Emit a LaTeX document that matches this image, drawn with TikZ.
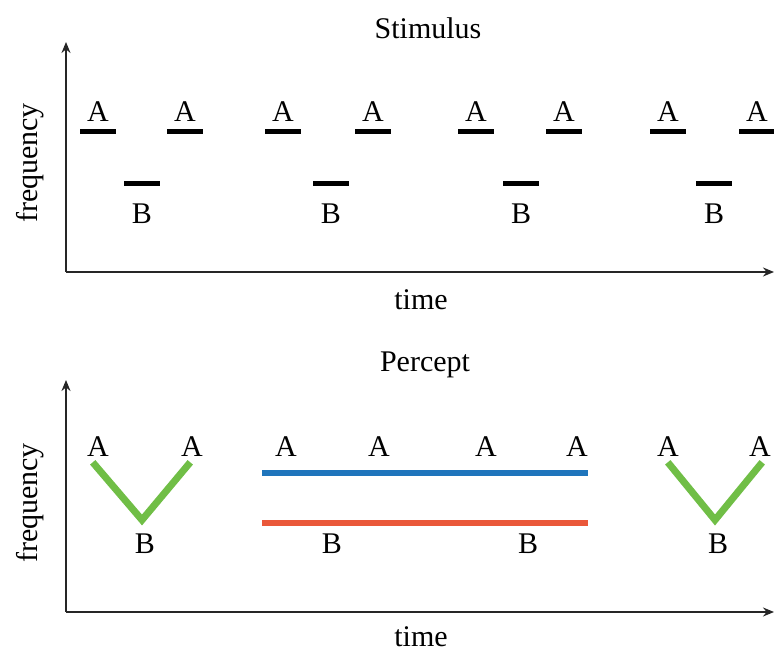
\documentclass[tikz,border=0pt]{standalone}
\usepackage{fontspec}
\setmainfont{Liberation Serif}
\usetikzlibrary{arrows.meta}
\definecolor{streamblue}{RGB}{31,117,188}
\definecolor{streamred}{RGB}{234,88,58}
\definecolor{streamgreen}{RGB}{112,190,70}
\begin{document}
\begin{tikzpicture}[x=1pt,y=1pt]
\path[use as bounding box] (0,0) rectangle (774,653);
\tikzstyle{axis}=[line width=1.8pt, black!85, -{Stealth[length=11pt,width=9pt]}]
\tikzstyle{tone}=[line width=5pt, black]
\tikzstyle{lbl}=[font=\fontsize{30}{34}\selectfont, inner sep=0pt, anchor=base]
\tikzstyle{ttl}=[font=\fontsize{30}{34}\selectfont, inner sep=0pt]
\tikzstyle{vee}=[line width=7pt, streamgreen, line cap=rect, line join=miter]
\tikzstyle{stream}=[line width=6.5pt]

% stimulus panel
\coordinate (s0) at (66,381);
\coordinate (sy) at (66,611);
\coordinate (sx) at (774,381);
\draw[axis] (s0) -- (sy);
\draw[axis] (s0) -- (sx);
\node[ttl] (stim) at (428,625) {Stimulus};
\node[ttl] (stime) at (421,353) {time};
\node[ttl, rotate=90] (sfreq) at (30,490) {frequency};

\foreach \a/\b/\c [count=\i] in {80/124/167, 265/313/355, 458/503/546, 650/696/739} {
  \draw[tone] (\a,521) -- ++(36,0);
  \draw[tone] (\b,469) -- ++(36,0);
  \draw[tone] (\c,521) -- ++(36,0);
  \node[lbl] (sa\i) at (\a+18,531) {A};
  \node[lbl] (sb\i) at (\b+18,429) {B};
  \node[lbl] (sc\i) at (\c+18,531) {A};
}

% percept panel
\coordinate (p0) at (66,41);
\coordinate (py) at (66,273);
\coordinate (px) at (774,41);
\draw[axis] (p0) -- (py);
\draw[axis] (p0) -- (px);
\node[ttl] (perc) at (425,288) {Percept};
\node[ttl] (ptime) at (421,16) {time};
\node[ttl, rotate=90] (pfreq) at (30,150) {frequency};

% integrated (left and right)
\draw[vee] (95,188) -- (142,133) -- (188,188);
\node[lbl] (la1) at (98,196) {A};
\node[lbl] (la2) at (192,196) {A};
\node[lbl] (lb1) at (145,99) {B};
\draw[vee] (670,188) -- (715,133) -- (760,188);
\node[lbl] (ra1) at (668,196) {A};
\node[lbl] (ra2) at (760,196) {A};
\node[lbl] (rb1) at (718,99) {B};

% segregated (middle)
\draw[stream, streamblue] (262,180) -- (588,180);
\draw[stream, streamred] (262,130) -- (588,130);
\foreach \x [count=\i] in {286,379,486,577}
  \node[lbl] (ma\i) at (\x,196) {A};
\foreach \x [count=\i] in {332,528}
  \node[lbl] (mb\i) at (\x,99) {B};
\end{tikzpicture}
\end{document}
